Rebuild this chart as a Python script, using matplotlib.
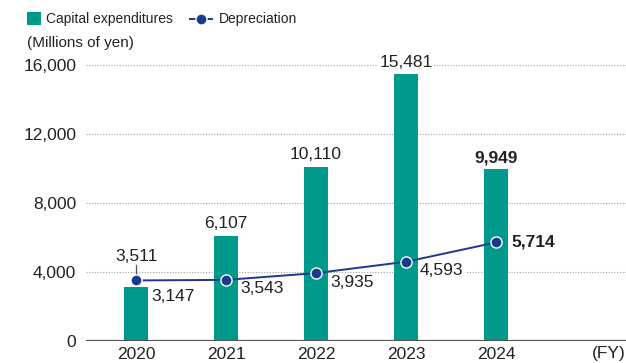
import matplotlib
matplotlib.use('Agg')
import matplotlib.pyplot as plt
from matplotlib.lines import Line2D
from matplotlib.patches import Rectangle

plt.rcParams['font.family'] = ['Liberation Sans', 'DejaVu Sans']

years = ['2020', '2021', '2022', '2023', '2024']
capex = [3147, 6107, 10110, 15481, 9949]
depreciation = [3511, 3543, 3935, 4593, 5714]
y_ticks = [0, 4000, 8000, 12000, 16000]

bar_color = '#009a8c'
line_color = '#1c3a8c'
text_color = '#222222'
fs = 12.5

fig = plt.figure(figsize=(6.26, 3.63), dpi=100)
ax = fig.add_axes([0.1374, 0.0606, 0.8626, 0.7604])

x = list(range(len(years)))
ax.bar(x, capex, width=0.26, color=bar_color, zorder=2)
ax.plot(x, depreciation, color=line_color, linewidth=1.4, marker='o', markersize=8,
        markerfacecolor=line_color, markeredgecolor='white', markeredgewidth=1.0, zorder=4)

ax.set_xlim(-0.556, 5.444)
ax.set_ylim(0, 16000)
ax.set_yticks(y_ticks)
ax.set_yticklabels([f'{v:,}' for v in y_ticks], fontsize=fs, color=text_color)
ax.set_xticks(x)
ax.set_xticklabels(years, fontsize=fs, color=text_color)
ax.tick_params(length=0, pad=7)
ax.tick_params(axis='x', pad=4)

for v in y_ticks[1:]:
    ax.axhline(v, color='#a0a0a0', linewidth=0.8, linestyle=(0, (1, 1.5)), zorder=1)
ax.axhline(0, color='#555555', linewidth=1.6, zorder=3)
for s in ax.spines.values():
    s.set_visible(False)

box = dict(boxstyle='square,pad=0.1', facecolor='white', edgecolor='none')

# capex values: above the bars, except 2020 which sits beside its bar
for i, v in enumerate(capex):
    if i == 0:
        ax.annotate(f'{v:,}', (i, v), xytext=(11, -7), textcoords='offset points',
                    ha='left', va='center', fontsize=fs, color=text_color, zorder=5)
        continue
    ax.annotate(f'{v:,}', (i, v), xytext=(0, 3), textcoords='offset points',
                ha='center', va='bottom', fontsize=fs, color=text_color,
                fontweight='bold' if i == len(capex) - 1 else 'normal',
                bbox=box, zorder=5)

# depreciation values
for i, v in enumerate(depreciation):
    if i == 0:
        ax.annotate(f'{v:,}', (i, v), xytext=(0, 17), textcoords='offset points',
                    ha='center', va='center', fontsize=fs, color=text_color, zorder=5)
        ax.plot([i, i], [v + 200, v + 880], color='#555555', linewidth=0.9, zorder=3)
    elif i == len(depreciation) - 1:
        ax.annotate(f'{v:,}', (i, v), xytext=(11, 0), textcoords='offset points',
                    ha='left', va='center', fontsize=fs, color=text_color,
                    fontweight='bold', zorder=5)
    else:
        ax.annotate(f'{v:,}', (i, v), xytext=(10, -6.5), textcoords='offset points',
                    ha='left', va='center', fontsize=fs, color=text_color,
                    bbox=box, zorder=5)

ax.text(1.0, -0.047, '(FY)', transform=ax.transAxes,
        ha='right', va='center', fontsize=fs, color=text_color)

# legend drawn by hand
fig.patches.append(Rectangle((0.0431, 0.931), 0.0224, 0.036, transform=fig.transFigure,
                             facecolor=bar_color, edgecolor='none'))
fig.text(0.0735, 0.949, 'Capital expenditures', ha='left', va='center', fontsize=10,
         color=text_color)
fig.lines.append(Line2D([0.3035, 0.3387], [0.949, 0.949], transform=fig.transFigure,
                        color=line_color, linewidth=1.4))
fig.lines.append(Line2D([0.321], [0.949], transform=fig.transFigure, marker='o',
                        markersize=8, markerfacecolor=line_color,
                        markeredgecolor='white', markeredgewidth=1.0))
fig.text(0.35, 0.949, 'Depreciation', ha='left', va='center', fontsize=10,
         color=text_color)
fig.text(0.043, 0.8815, '(Millions of yen)', ha='left', va='center', fontsize=11,
         color=text_color)

fig.savefig('out.png', dpi=100)
